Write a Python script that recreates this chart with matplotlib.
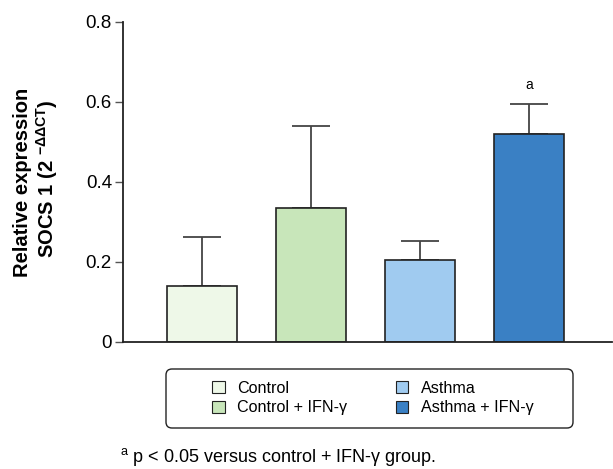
import matplotlib
matplotlib.use("Agg")
import matplotlib.pyplot as plt
from matplotlib.patches import FancyBboxPatch
import numpy as np

plt.rcParams['font.family'] = ['Liberation Sans', 'DejaVu Sans']
plt.rcParams['mathtext.fontset'] = 'custom'
plt.rcParams['mathtext.rm'] = 'Liberation Sans'

groups = ['Control', 'Control + IFN-\u03b3', 'Asthma', 'Asthma + IFN-\u03b3']
means = [0.14, 0.335, 0.205, 0.52]
errs = [0.1225, 0.205, 0.0475, 0.075]
colors = ['#eef8e8', '#c8e6ba', '#a0cbf0', '#3a80c4']
sig = ['', '', '', 'a']

fig = plt.figure(figsize=(6.13, 4.69), dpi=100)
ax = fig.add_axes([0.2007, 0.2708, 0.797, 0.6823])

x = np.arange(len(groups))
ax.bar(x, means, width=0.64, color=colors, edgecolor='#222222', linewidth=1.2, zorder=2)
ax.errorbar(x, means, yerr=[np.zeros(len(errs)), errs], fmt='none', ecolor='#444444',
            elinewidth=1.3, capsize=14, capthick=1.3, zorder=1)

for xi, m, e, s in zip(x, means, errs, sig):
    if s:
        ax.text(xi, m + e + 0.03, s, ha='center', va='bottom', fontsize=10)

ax.set_xlim(-0.725, 3.76)
ax.set_ylim(0, 0.8)
ax.set_yticks([0, 0.2, 0.4, 0.6, 0.8])
ax.set_yticklabels(['0', '0.2', '0.4', '0.6', '0.8'])
ax.set_xticks([])
ax.tick_params(axis='y', labelsize=13.5, length=6, width=1, color='#555555', pad=2)
for side in ['top', 'right']:
    ax.spines[side].set_visible(False)
for side in ['left', 'bottom']:
    ax.spines[side].set_color('#222222')
    ax.spines[side].set_linewidth(1.3)

# two-line y label
fig.text(0.036, 0.612, 'Relative expression', rotation=90, ha='center', va='center',
         fontsize=14.5, fontweight='bold')
fig.text(0.076, 0.618, 'SOCS 1 (2 $^{\\mathregular{-\\Delta\\Delta CT}}$)', rotation=90,
         ha='center', va='center', fontsize=14.5, fontweight='bold')

# legend with a rounded frame drawn separately
handles = [plt.Rectangle((0, 0), 1, 1, facecolor=c, edgecolor='#222222', linewidth=0.8) for c in colors]
leg = fig.legend(handles, groups, ncol=2, loc='center', bbox_to_anchor=(0.6085, 0.1514),
                 fontsize=11.6, frameon=False,
                 handlelength=0.75, handleheight=0.75, columnspacing=3.0, handletextpad=0.8,
                 labelspacing=0.3, borderpad=0.2)
box = FancyBboxPatch((1.66, 0.41), 4.07, 0.59, boxstyle='round,pad=0,rounding_size=0.06',
                     transform=fig.dpi_scale_trans, facecolor='none', edgecolor='#222222',
                     linewidth=1.0)
fig.patches.append(box)

fig.text(0.195, 0.014, '$^{\\mathregular{a}}$ p < 0.05 versus control + IFN-\u03b3 group.',
         fontsize=13, ha='left', va='baseline')

fig.savefig('out.png', dpi=100)
